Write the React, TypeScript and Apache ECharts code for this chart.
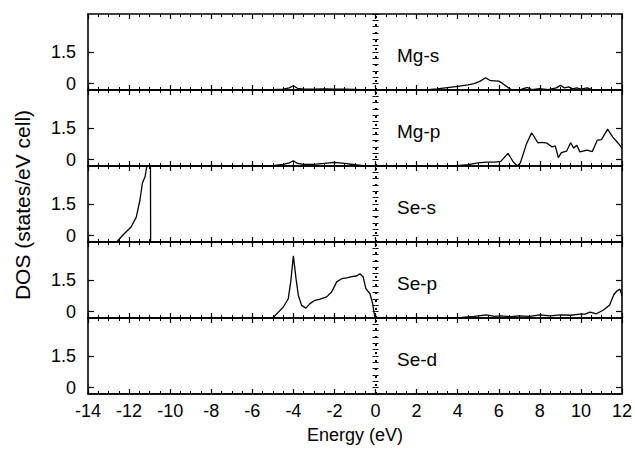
import { useEffect, useRef } from 'react';
import * as echarts from 'echarts';

const panelNames = ['Mg-s', 'Mg-p', 'Se-s', 'Se-p', 'Se-d'];
const yLabelTicks = [0, 1.5];

const mgS: number[][] = [[-14,-0.3],[-5.5,-0.3],[-5.0,-0.28],[-4.5,-0.26],[-4.2,-0.2],[-4.0,-0.1],[-3.8,-0.22],[-3.5,-0.26],[-3.0,-0.26],[-2.5,-0.25],[-2.0,-0.26],[-1.5,-0.26],[-1.0,-0.27],[-0.5,-0.29],[0,-0.3],[2.4,-0.3],[3.0,-0.25],[3.5,-0.19],[4.0,-0.13],[4.5,-0.06],[4.8,0.0],[5.1,0.12],[5.35,0.28],[5.6,0.14],[6.0,0.12],[6.2,0.0],[6.4,-0.15],[6.6,-0.28],[7.0,-0.3],[7.2,-0.24],[7.4,-0.18],[7.6,-0.28],[8.0,-0.24],[8.4,-0.28],[8.8,-0.2],[9.0,-0.08],[9.2,-0.2],[9.4,-0.15],[9.6,-0.25],[9.8,-0.2],[10.0,-0.26],[10.3,-0.2],[10.6,-0.3],[12,-0.3]];

const mgP: number[][] = [[-14,-0.3],[-5.5,-0.3],[-5.0,-0.28],[-4.5,-0.22],[-4.2,-0.15],[-4.0,-0.05],[-3.8,-0.18],[-3.5,-0.22],[-3.0,-0.22],[-2.5,-0.18],[-2.0,-0.13],[-1.5,-0.18],[-1.0,-0.24],[-0.5,-0.29],[0,-0.3],[2.5,-0.3],[3.5,-0.29],[4.0,-0.28],[4.5,-0.24],[5.0,-0.15],[5.4,-0.12],[5.8,-0.12],[6.1,-0.08],[6.45,0.3],[6.7,-0.1],[6.9,-0.3],[7.05,-0.15],[7.35,0.75],[7.6,1.27],[7.75,1.05],[7.9,0.8],[8.1,0.82],[8.35,0.78],[8.6,0.6],[8.75,0.65],[8.9,0.1],[9.05,0.33],[9.3,0.4],[9.5,0.8],[9.65,0.55],[9.8,0.68],[9.95,0.37],[10.3,0.45],[10.55,0.38],[10.8,0.93],[11.0,0.95],[11.3,1.45],[11.55,1.07],[11.8,0.8],[12,0.55]];

const seS: number[][] = [[-14,-0.3],[-12.6,-0.3],[-12.3,0.03],[-11.9,0.41],[-11.65,0.88],[-11.47,1.69],[-11.35,2.5],[-11.22,2.8],[-11.1,3.5],[-11.0,3.6],[-10.96,3.6],[-10.95,-0.3],[12,-0.3]];

const seP: number[][] = [[-14,-0.3],[-5.0,-0.3],[-4.73,-0.02],[-4.49,0.22],[-4.25,0.61],[-4.13,1.41],[-4.0,2.64],[-3.87,1.55],[-3.76,0.78],[-3.6,0.3],[-3.39,0.17],[-3.19,0.38],[-2.95,0.54],[-2.7,0.59],[-2.38,0.7],[-2.14,0.93],[-1.89,1.41],[-1.65,1.56],[-1.4,1.6],[-1.16,1.66],[-0.92,1.69],[-0.76,1.8],[-0.6,1.64],[-0.47,1.09],[-0.27,0.85],[-0.14,0.38],[-0.03,-0.3],[3.5,-0.3],[4.2,-0.27],[4.8,-0.22],[5.4,-0.15],[5.8,-0.22],[6.1,-0.2],[6.6,-0.24],[7.0,-0.2],[7.5,-0.22],[8.0,-0.15],[8.5,-0.2],[9.0,-0.15],[9.5,-0.17],[9.95,-0.12],[10.2,-0.12],[10.45,-0.02],[10.75,-0.1],[11.1,0.08],[11.4,0.32],[11.6,0.8],[11.75,0.98],[11.9,1.07],[12,0.75]];

const seD: number[][] = [[-14,-0.3],[12,-0.3]];

const panelData = [mgS, mgP, seS, seP, seD];

const FONT = 'Liberation Sans, Arial, Helvetica, sans-serif';
const GRID_LEFT = 88;
const GRID_WIDTH = 534;
const GRID_TOP = 14;
const GRID_H = 76;

export default function App() {
  const ref = useRef<HTMLDivElement>(null);
  useEffect(() => {
    const chart = echarts.init(ref.current!, null, { renderer: 'svg' });
    const grids: any[] = [];
    const xAxes: any[] = [];
    const yAxes: any[] = [];
    const series: any[] = [];
    const graphics: any[] = [];
    const axisLine = { show: true, onZero: false, lineStyle: { color: '#000', width: 1.6 } };
    panelNames.forEach((name, i) => {
      const top = GRID_TOP + i * GRID_H;
      grids.push({ left: GRID_LEFT, width: GRID_WIDTH, top, height: GRID_H });
      ['bottom', 'top'].forEach((pos) => {
        const showLab = i === panelNames.length - 1 && pos === 'bottom';
        xAxes.push({
          type: 'value', gridIndex: i, position: pos, min: -14, max: 12, interval: 2,
          axisLine,
          axisTick: { show: true, inside: true, length: 5, lineStyle: { color: '#000', width: 1.2 } },
          minorTick: { show: true, splitNumber: 4, length: 3, lineStyle: { color: '#000', width: 1 } },
          splitLine: { show: false }, minorSplitLine: { show: false },
          axisLabel: { show: showLab, color: '#000', fontSize: 18, fontFamily: FONT, margin: 8 },
          name: showLab ? 'Energy (eV)' : '', nameLocation: 'middle', nameGap: 32,
          nameTextStyle: { color: '#000', fontSize: 18, fontFamily: FONT },
        });
      });
      ['left', 'right'].forEach((pos) => {
        yAxes.push({
          type: 'value', gridIndex: i, position: pos, min: -0.3, max: 3.3,
          axisLine,
          axisTick: { show: true, inside: true, length: 6, customValues: yLabelTicks, lineStyle: { color: '#000', width: 1.2 } },
          axisLabel: { show: pos === 'left', customValues: yLabelTicks, color: '#000', fontSize: 18, fontFamily: FONT, margin: 12 },
          splitLine: { show: false },
        });
        yAxes.push({
          type: 'value', gridIndex: i, position: pos, min: -0.3, max: 3.3, interval: 0.3,
          axisLine: { show: false },
          axisTick: { show: true, inside: true, length: 3, lineStyle: { color: '#000', width: 1 } },
          axisLabel: { show: false },
          splitLine: { show: false },
        });
      });
      series.push({
        type: 'line', name, xAxisIndex: i * 2, yAxisIndex: i * 4, data: panelData[i],
        showSymbol: false, symbol: 'none', clip: true,
        lineStyle: { color: '#000', width: 1.3 },
        markLine: {
          silent: true, symbol: ['none', 'none'], label: { show: false },
          lineStyle: { color: '#000', type: [2, 6], width: 2, cap: 'butt' },
          data: [{ xAxis: 0 }],
        },
      });
      graphics.push({
        type: 'text', left: 397, top: top + 43 - 11,
        style: { text: name, fill: '#000', fontSize: 19, fontFamily: FONT },
      });
    });
    graphics.push({
      type: 'text', x: 22, y: 205, rotation: Math.PI / 2,
      style: { text: 'DOS (states/eV cell)', fill: '#000', fontSize: 21, fontFamily: FONT, align: 'center', verticalAlign: 'middle' },
    });
    chart.setOption({
      animation: false,
      backgroundColor: '#fff',
      grid: grids,
      xAxis: xAxes,
      yAxis: yAxes,
      series,
      graphic: graphics,
    });
    return () => chart.dispose();
  }, []);
  return <div ref={ref} style={{ position: 'fixed', left: 0, top: 0, width: 635, height: 461 }} />;
}
